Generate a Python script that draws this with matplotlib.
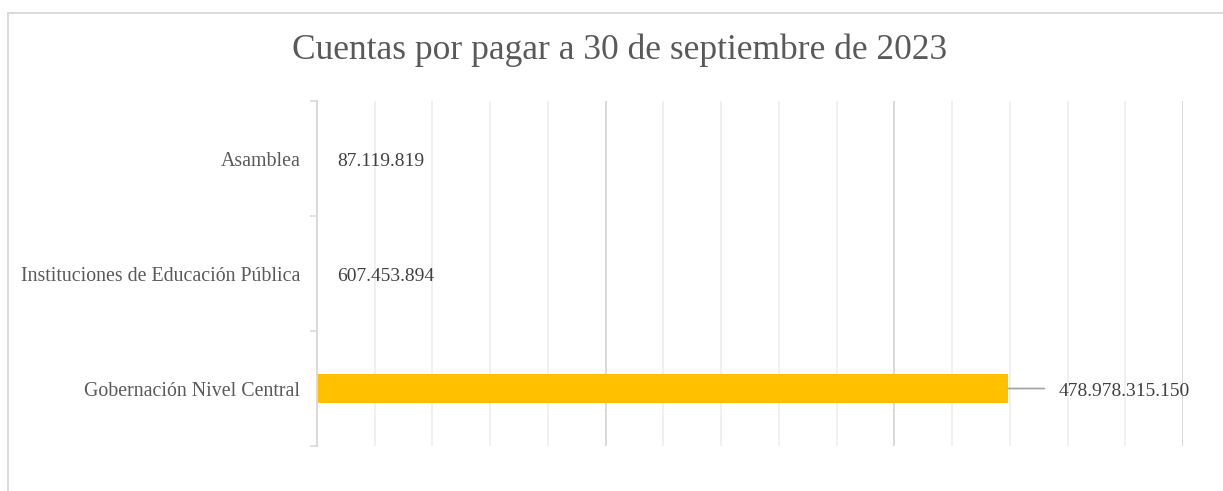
import matplotlib
matplotlib.use("Agg")
import matplotlib.pyplot as plt
from matplotlib.patches import Rectangle
from matplotlib.ticker import MultipleLocator

# data (bottom to top)
categories = ["Gobernación Nivel Central", "Instituciones de Educación Pública", "Asamblea"]
values = [478978315150, 607453894, 87119819]
value_labels = ["478.978.315.150", "607.453.894", "87.119.819"]
title = "Cuentas por pagar a 30 de septiembre de 2023"

TXT = "#595959"
GRID_MAJOR = "#d9d9d9"
GRID_MINOR = "#eeeeee"
BAR = "#ffc000"

plt.rcParams["font.family"] = ["Liberation Serif", "DejaVu Serif"]

fig = plt.figure(figsize=(12.23, 4.91), dpi=100)
ax = fig.add_axes([0.2592, 0.0916, 0.7081, 0.7026])

y = list(range(len(categories)))
ax.barh(y, values, height=0.26, color=BAR, zorder=3)

ax.set_xlim(0, 600e9)
ax.set_ylim(-0.5, len(categories) - 0.5)

# gridlines: major every 200e9, minor every 40e9
ax.xaxis.set_major_locator(MultipleLocator(200e9))
ax.xaxis.set_minor_locator(MultipleLocator(40e9))
ax.grid(True, axis="x", which="minor", color=GRID_MINOR, lw=1.2, zorder=0)
ax.grid(True, axis="x", which="major", color=GRID_MAJOR, lw=1.4, zorder=1)
ax.tick_params(axis="x", which="both", length=0, labelbottom=False)

# category labels, ticks at band boundaries
ax.set_yticks(y)
ax.set_yticklabels(categories, fontsize=14.3, color=TXT)
ax.set_yticks([i - 0.5 for i in range(len(categories) + 1)], minor=True)
ax.tick_params(axis="y", which="major", length=0, pad=12)
ax.tick_params(axis="y", which="minor", length=5, width=1.2, color=GRID_MAJOR)

for s in ["top", "right", "bottom"]:
    ax.spines[s].set_visible(False)
ax.spines["left"].set_color(GRID_MAJOR)
ax.spines["left"].set_linewidth(1.4)
ax.spines["left"].set_zorder(4)

# data labels
for yi, v, lab in zip(y, values, value_labels):
    if v > 100e9:
        ax.annotate("", xy=(v, yi), xytext=(36, 0), textcoords="offset pixels",
                    arrowprops=dict(arrowstyle="-", color="#a6a6a6", lw=1.3,
                                    shrinkA=0, shrinkB=0))
        ax.annotate(lab, xy=(v, yi), xytext=(50, -3), textcoords="offset pixels",
                    ha="left", va="center", fontsize=14, color="#404040")
    else:
        ax.annotate(lab, xy=(0, yi), xytext=(20, -3), textcoords="offset pixels",
                    ha="left", va="center", fontsize=14, color="#404040")

fig.text(0.507, 0.897, title, ha="center", va="center", fontsize=25.5, color=TXT)

# chart border
fig.patches.append(Rectangle((8 / 1223, -0.1), 1.2, 1.1 - 13 / 491,
                             transform=fig.transFigure, fill=False,
                             edgecolor=GRID_MAJOR, lw=1.4))

fig.savefig("out.png", dpi=100)
